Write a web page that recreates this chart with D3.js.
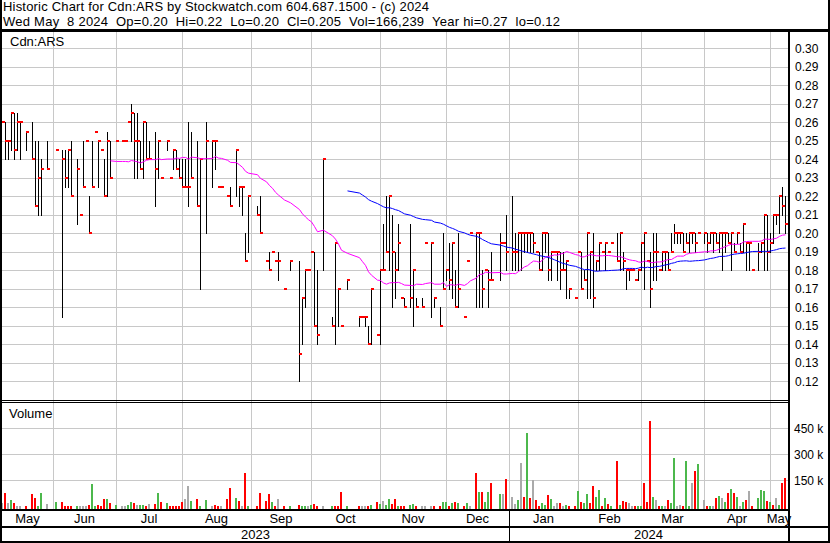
<!DOCTYPE html>
<html><head><meta charset="utf-8">
<script src="https://cdn.jsdelivr.net/npm/d3@7"></script>
<style>body{margin:0;background:#fff}svg text{font-family:"Liberation Sans",Arial,sans-serif;fill:#000}</style>
</head><body>
<svg id="c" width="830" height="543"></svg>
<script>
// ---------- data ----------
const titleLine1 = "Historic Chart for Cdn:ARS by Stockwatch.com 604.687.1500 - (c) 2024";
const titleLine2 = "Wed May  8 2024  Op=0.20  Hi=0.22  Lo=0.20  Cl=0.205  Vol=166,239  Year hi=0.27  lo=0.12";
const symbolLabel = "Cdn:ARS";
const volumeLabel = "Volume";
const firstDay = "2023-05-09", lastDay = "2024-05-08";   // weekday slots
const priceTicks = [0.12,0.13,0.14,0.15,0.16,0.17,0.18,0.19,0.20,0.21,0.22,0.23,0.24,0.25,0.26,0.27,0.28,0.29,0.30];
const volTicks = [150000,300000,450000];
const volTickLabels = ["150 k","300 k","450 k"];
const maShort = 30, maLong = 89;

const high = [
.26,.26,.25,.265,.265,.265,.26,null,.255,null,
.26,.25,.25,.24,null,.25,null,null,.245,null,
.245,.245,.245,.25,null,.24,.21,.25,.25,.22,
.25,.255,.25,.245,.24,.255,.25,null,.25,null,
.25,.25,.26,.27,.265,.265,.25,.26,.26,.25,
null,.255,.25,.23,null,.25,.23,.245,.245,.24,
.24,.24,.26,.255,null,.25,.24,null,.26,null,
.25,.25,.225,.225,null,.22,.225,null,.245,.225,
.225,.20,.22,null,null,.215,.22,null,.185,.19,
.19,.185,.19,null,.17,null,.185,null,null,.185,
.165,.18,.18,.19,.19,.18,null,.24,null,null,
.155,.195,.17,.15,null,.175,null,null,null,.155,
.155,.155,.15,.17,null,.145,.18,.205,.22,.22,
.21,.19,.205,.165,.165,null,.205,.18,.165,null,
.165,.195,null,.195,.165,null,.16,.20,.18,.195,
.195,.18,.20,null,.155,.185,.20,null,.20,.20,
.18,.18,.18,.19,null,null,.20,.195,.21,null,
.22,.20,.20,.20,.20,.20,.20,.20,.19,.19,
.20,.20,.20,.19,.19,.19,.19,.19,.185,.17,
null,.165,.19,.19,.18,.20,.19,.20,.185,.195,
.19,.195,.19,.195,null,.20,.20,.19,.18,.18,
.18,.175,.18,.195,.20,.185,.19,.20,.20,.18,
.19,.19,.19,.20,.205,.20,.20,.20,.20,.20,
.20,.20,.20,null,.20,.20,.20,.20,.20,.20,
.20,.20,.20,.20,.195,.20,.195,.205,.195,.195,
.18,null,.195,.195,.21,.21,.20,.21,.21,.22,
.225,.22];

const low = [
.26,.24,.24,.245,.24,.245,.24,null,.245,null,
.24,.215,.21,.21,null,.235,null,null,.245,null,
.155,.225,.225,.22,null,.205,.21,.225,.25,.20,
.225,.255,.225,.245,.22,.22,.23,null,.25,null,
.25,.25,.26,.25,.23,.23,.235,.23,.24,.24,
null,.215,.23,.23,null,.245,.23,.235,.235,.23,
.225,.225,.215,.23,null,.215,.17,null,.20,null,
.225,.235,.225,.225,null,.22,.215,null,.22,.215,
.21,.185,.19,null,null,.21,.20,null,.185,.18,
.19,.185,.175,null,.17,null,.18,null,null,.12,
.14,.16,.18,.19,.15,.14,null,.18,null,null,
.15,.14,.15,.15,null,.17,null,null,null,.15,
.155,.15,.14,.14,null,.145,.14,.18,.19,.18,
.16,.165,.18,.165,.16,null,.16,.15,.16,null,
.16,.195,null,.155,.16,null,.15,.17,.175,.17,
.165,.16,.16,null,.155,.185,.20,null,.16,.16,
.16,.18,.16,.175,null,null,.175,.195,.18,null,
.18,.18,.18,.18,.19,.19,.19,.19,.19,.18,
.18,.19,.175,.175,.19,.175,.17,.18,.165,.165,
null,.165,.19,.17,.175,.165,.165,.16,.18,.18,
.19,.18,.19,.195,null,.185,.18,.18,.17,.175,
.18,.175,.175,.18,.17,.185,.16,.175,.175,.18,
.18,.18,.18,.19,.195,.195,.195,.19,.195,.19,
.195,.19,.20,null,.195,.19,.195,.19,.195,.19,
.18,.19,.195,.18,.19,.195,.19,.19,.18,.18,
.18,null,.18,.19,.18,.18,.19,.195,.205,.20,
.21,.20];

const close = [
.26,.25,.25,.265,.245,.26,.26,null,.255,null,
.24,.215,.23,.235,null,.235,null,null,.245,null,
.24,.23,.245,.22,null,.235,.21,.225,.25,.20,
.225,.255,.25,.245,.22,.25,.23,null,.25,null,
.25,.25,.26,.265,.25,.25,.235,.26,.24,.24,
null,.235,.25,.23,null,.25,.23,.245,.235,.23,
.225,.225,.225,.23,null,.215,.24,null,.25,null,
.25,.25,.225,.225,null,.22,.215,null,.245,.225,
.225,.185,.22,null,null,.21,.20,null,.185,.18,
.19,.185,.185,null,.17,null,.185,null,null,.135,
.165,.18,.18,.19,.15,.145,null,.24,null,null,
.15,.195,.17,.15,null,.175,null,null,null,.155,
.155,.155,.14,.17,null,.145,.18,.18,.19,.22,
.19,.18,.195,.165,.16,null,.165,.18,.16,null,
.16,.195,null,.195,.165,null,.15,.17,.18,.175,
.195,.16,.17,null,.155,.185,.20,null,.20,.20,
.17,.18,.175,.175,null,null,.195,.195,.19,null,
.19,.19,.20,.20,.20,.20,.20,.195,.19,.18,
.20,.20,.18,.19,.19,.19,.18,.18,.185,.17,
null,.165,.19,.17,.175,.20,.19,.165,.185,.195,
.19,.195,.19,.195,null,.185,.20,.185,.18,.18,
.18,.175,.18,.195,.20,.185,.17,.19,.19,.18,
.19,.19,.18,.19,.20,.20,.20,.19,.195,.20,
.20,.195,.20,null,.20,.195,.20,.20,.195,.20,
.20,.20,.195,.20,.19,.20,.19,.205,.195,.195,
.18,null,.19,.195,.21,.19,.195,.21,.21,.22,
.215,.205];

// volume in thousands of shares
const volumeK = [
17,75,17,36,17,2,1,null,3,null,
71,50,2,77,null,13,null,null,25,null,
25,3,1,1,null,3,1,1,1,8,
129,2,8,1,42,42,19,null,8,null,
1,1,8,25,19,8,8,8,1,13,
null,13,77,25,null,19,1,1,3,1,
25,42,117,31,null,42,1,null,36,null,
1,8,1,1,null,42,106,null,48,31,
3,192,3,null,null,1,77,null,31,71,
25,1,42,null,3,null,1,null,null,8,
1,1,1,8,13,1,null,1,null,null,
3,1,1,83,null,3,null,null,null,1,
3,3,1,8,null,25,13,31,8,42,
13,42,1,1,1,null,8,13,3,null,
1,1,null,1,1,null,1,25,25,1,
19,25,19,null,1,19,1,null,192,83,
83,25,83,134,null,null,71,71,158,null,
54,13,36,250,54,423,48,152,36,1,
19,8,65,42,1,19,19,1,8,1,
null,1,88,25,19,71,19,117,54,94,
1,48,13,3,null,261,8,31,25,19,
1,3,3,3,134,25,492,54,36,1,
3,3,36,19,279,3,8,3,261,1,
134,204,244,null,36,3,3,1,48,59,
48,25,77,100,77,54,1,25,36,88,
1,null,48,94,88,31,25,8,48,8,
134,166];

// g = up, r = down, n = unchanged
const volumeDir = (
"nrngrnn-r-" + "rrgg-n--g-" + "rrrr-gnnnr" + "ggrrrgr-g-" + "nnggrnggrn" +
"-rgr-grrrr" + "rnng-rg-g-" + "nrrn-rr-gr" + "nrg--rr-rr" + "grn-r-g--r" +
"ggngrr-n--" + "grrr-g---r" + "nnrg-rgngg" + "rrgrr-ggr-" + "nn-nr-rggr" +
"grg-rgn-rg" + "rggr--gnr-" + "nngnrgrnrr" + "ggrgnnrngr" + "-rgrggrrgg" +
"rgrg-rgrrn" + "nrggrrrgnr" + "gnrggnnrgg" + "nrg-nrgnrg" + "ngrgrgngrn" +
"r-gggrgrng" + "rr").split("");

// ---------- build ----------
const parse = d3.timeParse("%Y-%m-%d");
const dates = [];
for (let d = parse(firstDay); d <= parse(lastDay); d = d3.timeDay.offset(d, 1)) {
  const wd = d.getDay();
  if (wd !== 0 && wd !== 6) dates.push(new Date(d));
}
const N = dates.length;

const svg = d3.select("#c");
const plotL = 2, plotR = 788, priceTop = 32, priceBot = 400, volTop = 403, volBot = 509;

const x = d3.scaleLinear().domain([0, N - 1]).range([2, 2 + 3 * (N - 1)]);
const y = d3.scaleLinear().domain([0.12, 0.30]).range([381.3, 48.3]);
const yv = d3.scaleLinear().domain([0, 450000]).range([506.3, 428.3]);

// month boundaries: weekday slot on or before the 1st of the month
const months = [];
for (let i = 1; i < N; i++) {
  if (dates[i].getMonth() !== dates[i - 1].getMonth()) {
    const first = new Date(dates[i].getFullYear(), dates[i].getMonth(), 1);
    const wd = first.getDay();
    months.push({ idx: (wd === 0 || wd === 6) ? i - 1 : i, date: dates[i] });
  }
}

svg.append("rect").attr("width", 830).attr("height", 543).attr("fill", "#fff");

const grid = svg.append("g").attr("stroke", "#c8c8c8").attr("stroke-width", 1).attr("shape-rendering", "crispEdges");
priceTicks.forEach(p => grid.append("line")
  .attr("x1", plotL).attr("x2", plotR)
  .attr("y1", Math.round(y(p)) + 0.5).attr("y2", Math.round(y(p)) + 0.5));
volTicks.forEach(v => grid.append("line")
  .attr("x1", plotL).attr("x2", plotR)
  .attr("y1", Math.round(yv(v)) + 0.5).attr("y2", Math.round(yv(v)) + 0.5));
months.forEach(m => grid.append("line")
  .attr("x1", Math.round(x(m.idx)) + 0.5).attr("x2", Math.round(x(m.idx)) + 0.5)
  .attr("y1", priceTop).attr("y2", volBot));

// moving averages over traded days
function movingAvg(n) {
  const pts = [], win = [];
  let sum = 0;
  close.forEach((c, k) => {
    if (c == null) return;
    win.push(c); sum += c;
    if (win.length > n) sum -= win.shift();
    if (win.length === n) pts.push([k, sum / n]);
  });
  return pts;
}
const line = d3.line().x(d => Math.round(x(d[0])) + 0.5).y(d => y(d[1]));

// price bars
const bars = svg.append("g").attr("shape-rendering", "crispEdges");
const idx = d3.range(N).filter(k => close[k] != null);
bars.selectAll("rect.hl").data(idx.filter(k => high[k] > low[k])).join("rect")
  .attr("x", k => Math.round(x(k)))
  .attr("y", k => Math.round(y(high[k])))
  .attr("width", 1)
  .attr("height", k => Math.round(y(low[k])) - Math.round(y(high[k])) + 1)
  .attr("fill", "#000");

svg.append("path").datum(movingAvg(maShort)).attr("d", line)
  .attr("fill", "none").attr("stroke", "#ff00ff").attr("stroke-width", 1);
svg.append("path").datum(movingAvg(maLong)).attr("d", line)
  .attr("fill", "none").attr("stroke", "#0000ff").attr("stroke-width", 1);

bars.selectAll("rect.cl").data(idx).join("rect")
  .attr("x", k => Math.round(x(k)))
  .attr("y", k => Math.round(y(close[k])) - 1)
  .attr("width", 3).attr("height", 2)
  .attr("fill", "#ff0000");

// volume bars
const vcol = { g: "#4cb84c", r: "#ff0000", n: "#aaaaaa" };
const vidx = d3.range(N).filter(k => volumeK[k] != null);
svg.append("g").attr("shape-rendering", "crispEdges")
  .selectAll("rect").data(vidx).join("rect")
  .attr("x", k => Math.round(x(k)) - 1)
  .attr("y", k => Math.round(yv(volumeK[k] * 1000)))
  .attr("width", 2)
  .attr("height", k => volBot - Math.round(yv(volumeK[k] * 1000)))
  .attr("fill", k => vcol[volumeDir[k]] || "#aaaaaa");

// frame
const fr = svg.append("g").attr("fill", "#000").attr("shape-rendering", "crispEdges");
fr.append("rect").attr("x", 0).attr("y", 0).attr("width", 2).attr("height", 543);
fr.append("rect").attr("x", 828).attr("y", 0).attr("width", 2).attr("height", 543);
fr.append("rect").attr("x", 0).attr("y", 541).attr("width", 830).attr("height", 2);
fr.append("rect").attr("x", 0).attr("y", 29).attr("width", 830).attr("height", 3);
fr.append("rect").attr("x", 788).attr("y", 29).attr("width", 2).attr("height", 514);
fr.append("rect").attr("x", 0).attr("y", 400).attr("width", 790).attr("height", 1);
fr.append("rect").attr("x", 0).attr("y", 402).attr("width", 790).attr("height", 1);
fr.append("rect").attr("x", 0).attr("y", 509).attr("width", 790).attr("height", 2);
fr.append("rect").attr("x", 0).attr("y", 526).attr("width", 830).attr("height", 2);

// texts (non-breaking spaces keep the double spacing)
const nb = s => s.replace(/ /g, "\u00A0");
const t = svg.append("g").style("font-size", "13px");
t.append("text").attr("x", 3).attr("y", 11).attr("textLength", 426).attr("lengthAdjust", "spacing").text(nb(titleLine1));
t.append("text").attr("x", 3).attr("y", 26).attr("textLength", 557).attr("lengthAdjust", "spacing").text(nb(titleLine2));
t.append("text").attr("x", 10).attr("y", 46).text(symbolLabel);
t.append("text").attr("x", 9).attr("y", 418).text(volumeLabel);

const ax = svg.append("g").style("font-size", "12px");
priceTicks.forEach(p => ax.append("text").attr("x", 795).attr("y", y(p) + 4.5).text(p.toFixed(2)));
volTicks.forEach((v, i) => ax.append("text").attr("x", 794).attr("y", yv(v) + 4.5).text(nb(volTickLabels[i])));

// month labels centered between boundaries
const fmtMonth = d3.timeFormat("%b");
const bounds = [plotL].concat(months.map(m => Math.round(x(m.idx)))).concat([plotR]);
const monthDates = [dates[0]].concat(months.map(m => m.date));
const mt = svg.append("g").style("font-size", "13px").attr("text-anchor", "middle");
monthDates.forEach((d, i) => mt.append("text")
  .attr("x", (bounds[i] + bounds[i + 1]) / 2).attr("y", 523).text(fmtMonth(d)));

// year labels and separator
const janIdx = months.find(m => m.date.getMonth() === 0).idx;
const janX = Math.round(x(janIdx));
fr.append("rect").attr("x", janX).attr("y", 511).attr("width", 1).attr("height", 30);
const yearFmt = d3.timeFormat("%Y");
mt.append("text").attr("x", (plotL + janX) / 2).attr("y", 539).text(yearFmt(dates[0]));
mt.append("text").attr("x", (janX + plotR) / 2).attr("y", 539).text(yearFmt(dates[N - 1]));
</script>
</body></html>
